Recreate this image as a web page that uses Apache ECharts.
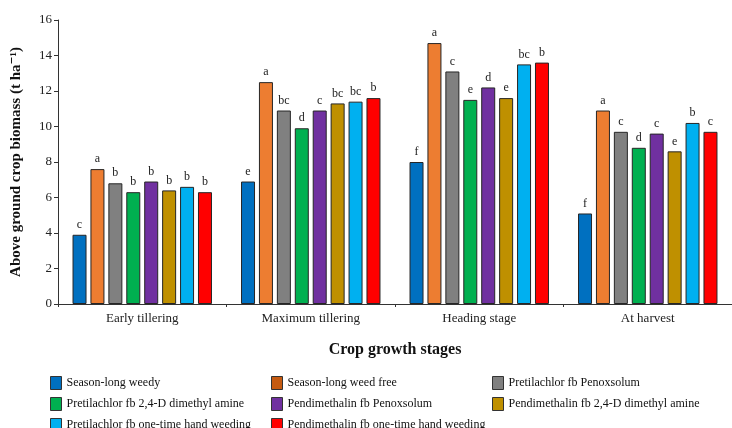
<!DOCTYPE html>
<html>
<head>
<meta charset="utf-8">
<script src="https://cdn.jsdelivr.net/npm/echarts@6/dist/echarts.min.js"></script>
<style>
  html, body { margin: 0; padding: 0; background: #fff; }
  #chart { width: 732px; height: 428px; }
</style>
</head>
<body>
<div id="chart"></div>
<script>
// 生长阶段
var stages = ['Early tillering', 'Maximum tillering', 'Heading stage', 'At harvest'];
// 处理名称
var treatments = [
  'Season-long weedy',
  'Season-long weed free',
  'Pretilachlor fb Penoxsolum',
  'Pretilachlor fb 2,4-D dimethyl amine',
  'Pendimethalin fb Penoxsolum',
  'Pendimethalin fb 2,4-D dimethyl amine',
  'Pretilachlor fb one-time hand weeding',
  'Pendimethalin fb one-time hand weeding'
];
var colors = ['#0070C0', '#ED7D31', '#808080', '#00B050', '#7030A0', '#BF9000', '#00B0F0', '#FF0000'];

// 每个处理在四个阶段的生物量
var weedy = [3.9, 6.9, 8.0, 5.1];
var weedFree = [7.6, 12.5, 14.7, 10.9];
var pretiPenox = [6.8, 10.9, 13.1, 9.7];
var preti24d = [6.3, 9.9, 11.5, 8.8];
var pendiPenox = [6.9, 10.9, 12.2, 9.6];
var pendi24d = [6.4, 11.3, 11.6, 8.6];
var pretiHand = [6.6, 11.4, 13.5, 10.2];
var pendiHand = [6.3, 11.6, 13.6, 9.7];
var values = [weedy, weedFree, pretiPenox, preti24d, pendiPenox, pendi24d, pretiHand, pendiHand];

// 显著性字母
var weedyLetters = ['c', 'e', 'f', 'f'];
var weedFreeLetters = ['a', 'a', 'a', 'a'];
var pretiPenoxLetters = ['b', 'bc', 'c', 'c'];
var preti24dLetters = ['b', 'd', 'e', 'd'];
var pendiPenoxLetters = ['b', 'c', 'd', 'c'];
var pendi24dLetters = ['b', 'bc', 'e', 'e'];
var pretiHandLetters = ['b', 'bc', 'bc', 'b'];
var pendiHandLetters = ['b', 'b', 'b', 'c'];
var letters = [weedyLetters, weedFreeLetters, pretiPenoxLetters, preti24dLetters,
  pendiPenoxLetters, pendi24dLetters, pretiHandLetters, pendiHandLetters];

// y 轴刻度
var yTicks = [0, 2, 4, 6, 8, 10, 12, 14, 16];

var serif = '"Liberation Serif", "DejaVu Serif", serif';
var chart = echarts.init(document.getElementById('chart'));

var series = treatments.map(function (name, i) {
  return {
    name: name,
    type: 'bar',
    data: values[i],
    barWidth: 14,
    barGap: '28%',
    itemStyle: { color: colors[i], borderColor: '#262626', borderWidth: 1 },
    label: {
      show: true,
      position: 'top',
      distance: 4,
      fontFamily: serif,
      fontSize: 12,
      color: '#222',
      formatter: function (p) { return letters[i][p.dataIndex]; }
    }
  };
});

// 图例按三列排列
function legendColumn(names, left) {
  return {
    orient: 'vertical',
    left: left,
    top: 376,
    height: 80,
    padding: 0,
    itemWidth: 11,
    itemHeight: 13,
    itemGap: 7,
    icon: 'rect',
    selectedMode: false,
    itemStyle: { borderColor: '#333', borderWidth: 1 },
    textStyle: { fontFamily: serif, fontSize: 12, color: '#111' },
    data: names.map(function (n) {
      var item = { name: n };
      if (n === 'Season-long weed free') item.itemStyle = { color: '#C55A11' };
      return item;
    })
  };
}

var option = {
  animation: false,
  backgroundColor: '#fff',
  color: colors,
  grid: { left: 58, top: 20, width: 684, bottom: 124 },
  legend: [
    legendColumn([treatments[0], treatments[3], treatments[6]], 50),
    legendColumn([treatments[1], treatments[4], treatments[7]], 271),
    legendColumn([treatments[2], treatments[5]], 492)
  ],
  xAxis: {
    type: 'category',
    data: stages,
    name: 'Crop growth stages',
    nameLocation: 'middle',
    nameGap: 38,
    nameTextStyle: { fontFamily: serif, fontSize: 16, fontWeight: 'bold', color: '#111' },
    axisLine: { lineStyle: { color: '#333', width: 1 } },
    axisTick: { show: true, length: 3, lineStyle: { color: '#333' } },
    axisLabel: { fontFamily: serif, fontSize: 13, color: '#222', margin: 8 }
  },
  yAxis: {
    type: 'value',
    min: yTicks[0],
    max: yTicks[yTicks.length - 1],
    interval: 2,
    name: 'Above ground crop biomass (t ha\u207B\u00B9)',
    nameLocation: 'middle',
    nameGap: 34,
    nameTextStyle: { fontFamily: serif, fontSize: 15, fontWeight: 'bold', color: '#111' },
    axisLine: { show: true, lineStyle: { color: '#333', width: 1 } },
    axisTick: { show: true, length: 4, lineStyle: { color: '#333' } },
    axisLabel: { fontFamily: serif, fontSize: 13, color: '#222', margin: 6 },
    splitLine: { show: false }
  },
  series: series
};

chart.setOption(option);
</script>
</body>
</html>
